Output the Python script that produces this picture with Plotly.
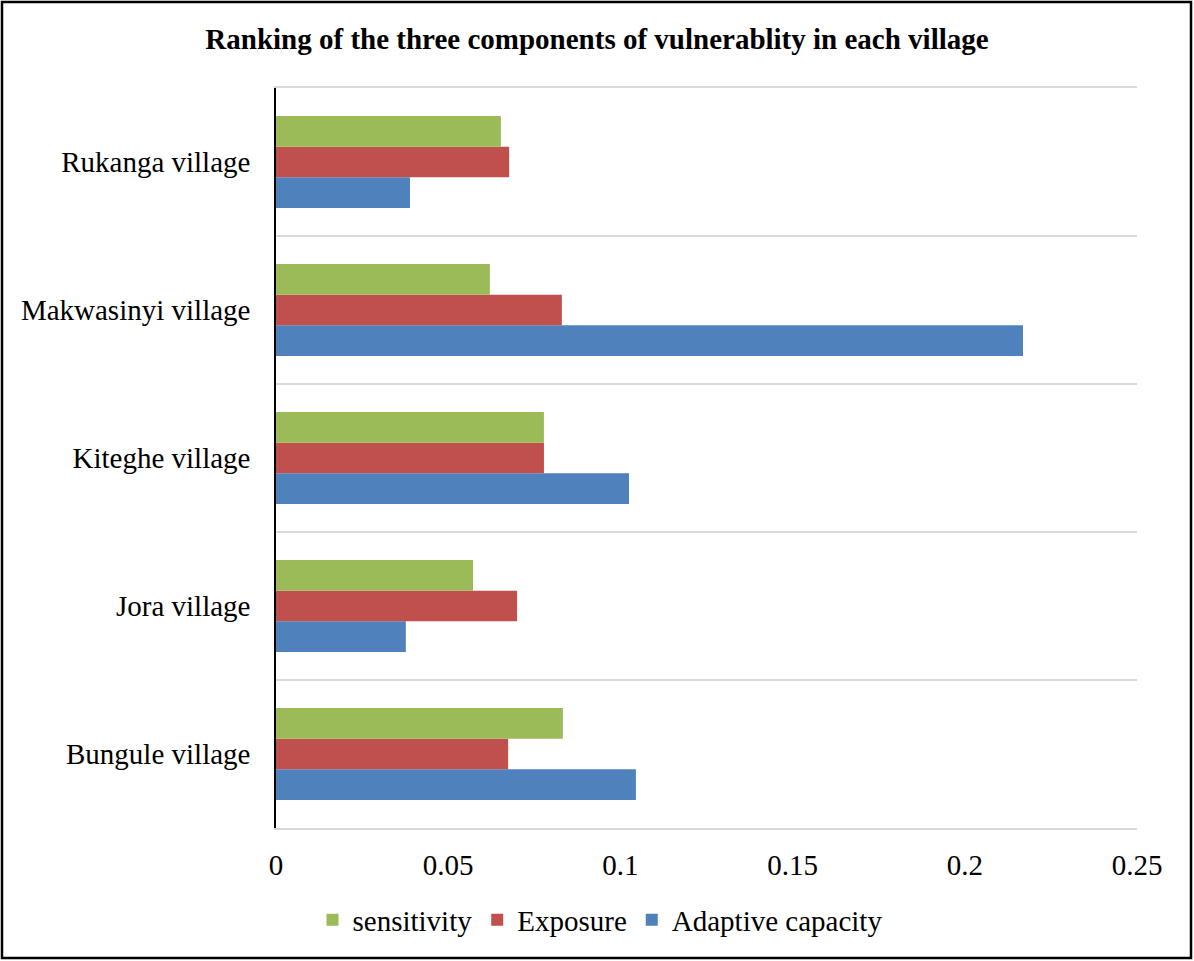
import plotly.graph_objects as go

villages = ["Bungule village", "Jora village", "Kiteghe village",
            "Makwasinyi village", "Rukanga village"]
adaptive_capacity = [0.1045, 0.0377, 0.1025, 0.2169, 0.0389]
exposure = [0.0674, 0.0700, 0.0778, 0.0830, 0.0677]
sensitivity = [0.0833, 0.0572, 0.0778, 0.0621, 0.0653]
x_ticks = [0, 0.05, 0.1, 0.15, 0.2, 0.25]
x_tick_labels = ["0", "0.05", "0.1", "0.15", "0.2", "0.25"]

W, H = 1194, 961
L, R, T, B = 276, 57, 88, 133
FONT = "Liberation Serif"

fig = go.Figure()
for name, vals, color in [
    ("Adaptive capacity", adaptive_capacity, "#4F81BD"),
    ("Exposure", exposure, "#C0504D"),
    ("sensitivity", sensitivity, "#9BBB59"),
]:
    fig.add_trace(go.Bar(y=villages, x=vals, name=name, orientation="h",
                         marker=dict(color=color, line=dict(width=0))))

pw, ph = W - L - R, H - T - B
# outer frame around the whole figure, expressed in plot-area (paper) fractions
x0 = (2 - L) / pw
x1 = (W - 3 - L) / pw
y0 = -(H - 3 - T - ph) / ph
y1 = 1 + (T - 2) / ph

fig.update_layout(
    width=W, height=H,
    margin=dict(l=L, r=R, t=T, b=B),
    paper_bgcolor="white", plot_bgcolor="white",
    barmode="group", bargap=0.378, bargroupgap=0,
    font=dict(family=FONT, size=29, color="black"),
    title=dict(text="<b>Ranking of the three components of vulnerablity in each village</b>",
               x=0.5, xanchor="center", y=1 - 39 / H, yanchor="middle",
               font=dict(family=FONT, size=29, color="black")),
    xaxis=dict(range=[0, 0.25], tickvals=x_ticks, ticktext=x_tick_labels,
               showgrid=False, zeroline=False, showline=True, mirror=True,
               linecolor="#D9D9D9", linewidth=1.5,
               ticks="", ticklabelstandoff=10),
    yaxis=dict(type="category", categoryorder="array", categoryarray=villages,
               tickson="boundaries", showgrid=True, gridcolor="#D9D9D9",
               gridwidth=1.5, showline=True, linecolor="black", linewidth=1.5,
               ticks="", ticklabelstandoff=18),
    legend=dict(orientation="h", x=(600 - L) / pw, xanchor="center",
                y=-(920 - T - ph) / ph, yanchor="middle",
                traceorder="reversed", font=dict(family=FONT, size=29)),
    shapes=[dict(type="rect", xref="paper", yref="paper",
                 x0=x0, x1=x1, y0=y0, y1=y1,
                 line=dict(color="black", width=2.5), layer="above")],
)

fig.write_html("out.html")
